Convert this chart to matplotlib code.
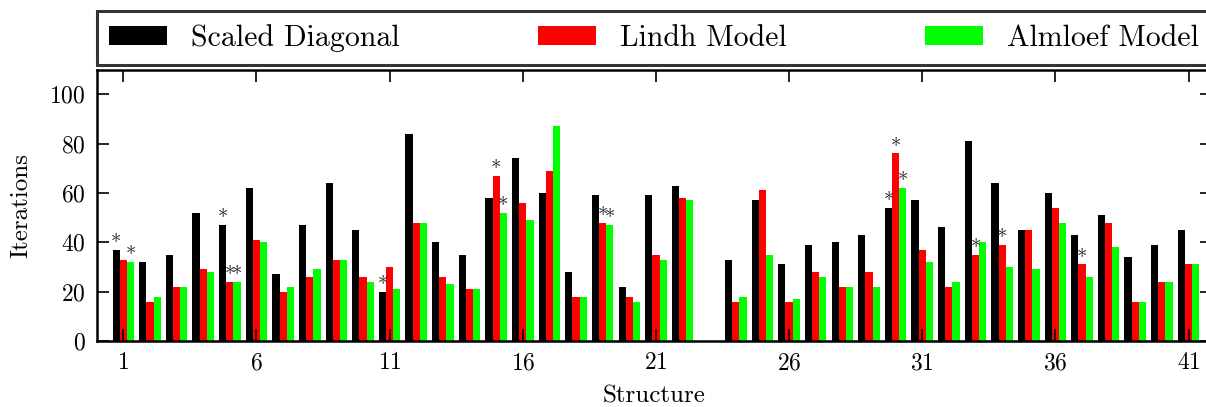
import matplotlib
matplotlib.use("Agg")
import matplotlib.pyplot as plt
import numpy as np

# Data
structures = np.arange(1, 42)
scaled_diagonal = [37, 32, 35, 52, 47, 62, 27, 47, 64, 45,
                   20, 84, 40, 35, 58, 74, 60, 28, 59, 22,
                   59, 63, np.nan, 33, 57, 31, 39, 40, 43, 54,
                   57, 46, 81, 64, 45, 60, 43, 51, 34, 39, 45]
lindh_model = [33, 16, 22, 29, 24, 41, 20, 26, 33, 26,
               30, 48, 26, 21, 67, 56, 69, 18, 48, 18,
               35, 58, np.nan, 16, 61, 16, 28, 22, 28, 76,
               37, 22, 35, 39, 45, 54, 31, 48, 16, 24, 31]
almloef_model = [32, 18, 22, 28, 24, 40, 22, 29, 33, 24,
                 21, 48, 23, 21, 52, 49, 87, 18, 47, 16,
                 33, 57, np.nan, 18, 35, 17, 26, 22, 22, 62,
                 32, 24, 40, 30, 29, 48, 26, 38, 16, 24, 31]

# structures marked with an asterisk, per series
stars_scaled = [1, 5, 11, 30]
stars_lindh = [5, 15, 19, 30, 33, 34, 37]
stars_almloef = [1, 5, 15, 19, 30]

series_names = ["Scaled Diagonal", "Lindh Model", "Almloef Model"]
x_ticks = [1, 6, 11, 16, 21, 26, 31, 36, 41]
y_ticks = [0, 20, 40, 60, 80, 100]

plt.rcParams["font.family"] = "cmr10"
plt.rcParams["axes.formatter.use_mathtext"] = True
plt.rcParams["mathtext.fontset"] = "cm"

fig = plt.figure(figsize=(12.06, 4.07), dpi=100)
ax = fig.add_axes([96.7 / 1206, 66 / 407, 1115.0 / 1206, 271.5 / 407])

width = 0.27
offsets = [-width, 0.0, width]
colors = ["black", "red", "#00ff00"]
all_values = [scaled_diagonal, lindh_model, almloef_model]
all_stars = [stars_scaled, stars_lindh, stars_almloef]

handles = []
for vals, off, col, name, stars in zip(all_values, offsets, colors,
                                       series_names, all_stars):
    vals = np.asarray(vals, dtype=float)
    h = ax.bar(structures + off, vals, width=width, color=col,
               linewidth=0, label=name)
    handles.append(h)
    for s in stars:
        ax.text(s + off, vals[s - 1] + 0.2, "*", ha="center", va="baseline",
                fontsize=15, color="#222222")

ax.set_xlim(0, 41.87)
ax.set_ylim(0, 110)
ax.set_xticks(x_ticks)
ax.set_yticks(y_ticks)
ax.tick_params(direction="in", length=8.5, width=1.2, labelsize=17,
               top=True, right=True)
ax.tick_params(axis="x", pad=8)
ax.tick_params(axis="y", pad=8)
for sp in ax.spines.values():
    sp.set_linewidth(1.8)

ax.set_xlabel("Structure", fontsize=18, labelpad=8)
ax.set_ylabel("Iterations", fontsize=18, labelpad=12)

leg = fig.legend(handles=handles, loc="lower left", ncol=3, mode="expand",
                 bbox_to_anchor=(96.7 / 1206, (407 - 64.5) / 407,
                                 1115.0 / 1206, 0.12),
                 fontsize=21.5, frameon=True, fancybox=False,
                 handlelength=1.95, handleheight=0.65, handletextpad=0.8,
                 borderpad=0.42, borderaxespad=0)
leg.get_frame().set_edgecolor("black")
leg.get_frame().set_linewidth(2.2)

fig.savefig("out.png", dpi=100)
